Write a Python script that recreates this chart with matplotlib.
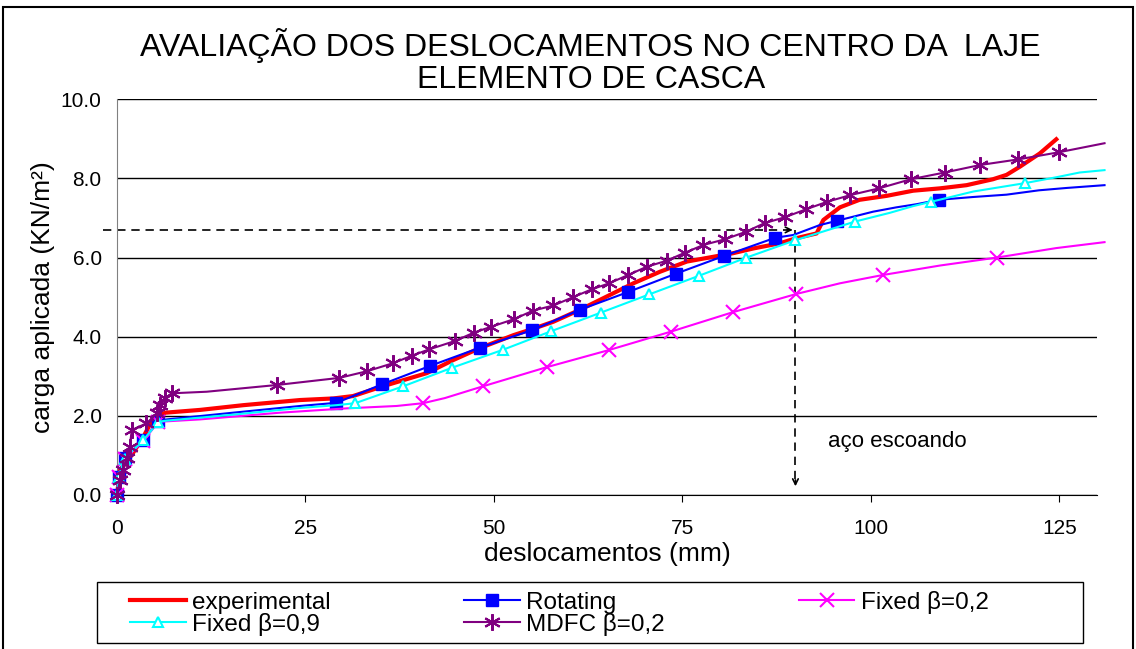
import numpy as np
import matplotlib
matplotlib.use('Agg')
import matplotlib.pyplot as plt
from matplotlib.patches import Rectangle

plt.rcParams['font.family'] = ['Liberation Sans', 'DejaVu Sans']

# experimental (sem marcadores)
ex_x = [0, 0.4, 1.95, 3.5, 4.8, 6.4, 11.0, 16.75, 24.3, 28.7, 31.3, 35.3, 41.1, 44.6, 48.1,
        52.6, 55.2, 57.9, 61.4, 64.9, 68.5, 72.0, 75.6, 79.1, 81.7, 84.4, 87.9, 90.1, 92.8,
        93.7, 95.9, 98.5, 102.1, 105.6, 109.2, 112.7, 116.2, 118.0, 119.8, 122.4, 124.6]
ex_y = [0, 0.63, 1.01, 1.47, 1.94, 2.08, 2.15, 2.27, 2.40, 2.44, 2.50, 2.75, 3.08, 3.41, 3.71,
        4.04, 4.20, 4.38, 4.68, 5.01, 5.35, 5.64, 5.90, 6.02, 6.11, 6.23, 6.36, 6.49, 6.61,
        6.95, 7.27, 7.46, 7.56, 7.69, 7.75, 7.83, 7.98, 8.09, 8.30, 8.63, 8.99]

# Rotating
rot_x = [0, 0.2, 1.0, 3.5, 5.5, 6.6, 15.4, 24.3, 29.1, 35.2, 41.5, 48.1, 55.1, 61.4, 67.8,
         74.1, 80.5, 87.3, 89.7, 93.2, 95.5, 100.3, 103.4, 106.1, 109.0, 113.5, 118.0, 122.3,
         126.0, 131.0]
rot_y = [0, 0.46, 0.93, 1.39, 1.87, 1.91, 2.08, 2.25, 2.33, 2.80, 3.26, 3.72, 4.17, 4.68, 5.13,
         5.59, 6.04, 6.50, 6.57, 6.82, 6.93, 7.16, 7.27, 7.35, 7.46, 7.53, 7.59, 7.70,
         7.76, 7.83]
rot_mk = [0, 1, 2, 3, 4, 8, 9, 10, 11, 12, 13, 14, 15, 16, 17, 20, 24]

# Fixed beta=0,2
f2_x = [0, 0.2, 1.0, 3.5, 5.5, 11.0, 21.6, 30.5, 37.1, 40.6, 43.5, 48.6, 57.0, 65.2, 73.5,
        81.7, 90.1, 95.9, 101.6, 109.2, 116.7, 124.6, 131.0]
f2_y = [0, 0.45, 0.90, 1.37, 1.85, 1.91, 2.08, 2.19, 2.25, 2.32, 2.45, 2.75, 3.23, 3.66, 4.13,
        4.62, 5.08, 5.35, 5.56, 5.80, 6.00, 6.24, 6.39]
f2_mk = [0, 1, 2, 3, 4, 9, 11, 12, 13, 14, 15, 16, 18, 20]

# Fixed beta=0,9
f9_x = [0, 0.2, 1.0, 3.5, 5.5, 6.6, 15.4, 24.3, 29.1, 31.6, 38.0, 44.5, 51.2, 57.6, 64.2,
        70.6, 77.2, 83.5, 90.0, 97.9, 102.5, 105.6, 108.0, 113.6, 120.4, 124.6, 127.7, 131.0]
f9_y = [0, 0.45, 0.92, 1.39, 1.85, 1.88, 2.03, 2.20, 2.27, 2.32, 2.75, 3.22, 3.67, 4.14, 4.61,
        5.07, 5.54, 6.00, 6.44, 6.91, 7.13, 7.30, 7.41, 7.67, 7.88, 8.03, 8.15, 8.21]
f9_mk = [0, 1, 2, 3, 4, 9, 10, 11, 12, 13, 14, 15, 16, 17, 18, 19, 22, 24]

# MDFC beta=0,2
md_x = [0, 0.4, 0.84, 1.3, 1.7, 1.95, 3.9, 5.3, 5.7, 6.4, 7.25, 11.9, 21.2, 29.5, 33.2, 36.6,
        39.1, 41.4, 44.8, 47.3, 49.6, 52.6, 55.2, 57.9, 60.5, 63.0, 65.3, 67.8, 70.3, 72.9,
        75.3, 77.8, 80.6, 83.4, 85.9, 88.6, 91.4, 94.2, 97.3, 101.1, 105.3, 109.8, 114.5,
        119.5, 124.9, 131.0]
md_y = [0, 0.38, 0.63, 0.93, 1.22, 1.64, 1.81, 2.06, 2.27, 2.44, 2.57, 2.61, 2.78, 2.96, 3.13,
        3.33, 3.52, 3.68, 3.89, 4.10, 4.25, 4.44, 4.66, 4.79, 5.00, 5.20, 5.35, 5.56, 5.77,
        5.92, 6.12, 6.32, 6.46, 6.65, 6.87, 7.02, 7.22, 7.41, 7.58, 7.75, 7.98, 8.15, 8.34,
        8.48, 8.66, 8.89]
md_mk = [i for i in range(len(md_x)) if i not in (11, len(md_x) - 1)]

# ponto de escoamento do aco
esc_x = 90.0
esc_y = 6.7

fig = plt.figure(figsize=(11.36, 6.49), dpi=100)
ax = fig.add_axes([117 / 1136, 1 - 495 / 649, 980 / 1136, 395.7 / 649])

h_ex, = ax.plot(ex_x, ex_y, color='#FF0000', lw=3.0, label='experimental', clip_on=False, zorder=3)
h_rot, = ax.plot(rot_x, rot_y, color='#0000FF', lw=1.5, marker='s', ms=9, markevery=rot_mk,
                 label='Rotating', clip_on=False, zorder=4)
h_f2, = ax.plot(f2_x, f2_y, color='#FF00FF', lw=1.5, marker='x', ms=10, mew=1.5, markevery=f2_mk,
                label='Fixed β=0,2', clip_on=False, zorder=4)
h_f9, = ax.plot(f9_x, f9_y, color='#00FFFF', lw=1.5, marker='^', ms=7, mfc='white', mew=1.5,
                markevery=f9_mk, label='Fixed β=0,9', clip_on=False, zorder=4)
h_md, = ax.plot(md_x, md_y, color='#800080', lw=1.5, marker=(6, 2, 0), ms=12, mew=1.5,
                markevery=md_mk, label='MDFC β=0,2', clip_on=False, zorder=5)

# setas tracejadas
ax.plot([-1.9, esc_x - 0.5], [esc_y, esc_y], color='black', lw=1.2, ls=(0, (5, 3.5)), clip_on=False)
ax.annotate('', xy=(esc_x, esc_y), xytext=(esc_x - 1.5, esc_y),
            arrowprops=dict(arrowstyle='->', color='black', lw=1.2))
ax.plot([esc_x, esc_x], [esc_y, 0.3], color='black', lw=1.2, ls=(0, (5, 3.5)))
ax.annotate('', xy=(esc_x, 0.15), xytext=(esc_x, 0.45),
            arrowprops=dict(arrowstyle='->', color='black', lw=1.2))
ax.text(94.3, 1.35, 'aço escoando', fontsize=16, va='center', ha='left')

ax.set_xlim(0, 130)
ax.set_ylim(0, 10)
ax.set_xticks([0, 25, 50, 75, 100, 125])
ax.set_yticks(np.arange(0, 10.1, 2))
ax.set_yticklabels(['%.1f' % v for v in np.arange(0, 10.1, 2)])
ax.tick_params(axis='x', direction='out', length=5, labelsize=15, pad=12)
ax.tick_params(axis='y', length=0, labelsize=15, pad=11)
ax.grid(axis='y', color='black', lw=1.0)
ax.set_axisbelow(True)
for s in ['top', 'right']:
    ax.spines[s].set_visible(False)
ax.spines['left'].set_color('#808080')
ax.spines['bottom'].set_color('black')

ax.set_xlabel('deslocamentos (mm)', fontsize=19, labelpad=3)
ax.set_ylabel('carga aplicada (KN/m²)', fontsize=19, labelpad=4)

fig.text(0.52, 1 - 61.5 / 649, 'AVALIAÇÃO DOS DESLOCAMENTOS NO CENTRO DA  LAJE\nELEMENTO DE CASCA',
         ha='center', va='center', fontsize=23, linespacing=1.07)

# legenda: moldura desenhada a parte
leg = fig.legend([h_ex, h_f9, h_rot, h_md, h_f2],
                 ['experimental', 'Fixed β=0,9', 'Rotating', 'MDFC β=0,2', 'Fixed β=0,2'],
                 ncol=3, loc='upper left', bbox_to_anchor=(130 / 1136, 1 - 591 / 649),
                 fontsize=17.5, frameon=False, labelspacing=-0.045, handlelength=2.3,
                 handletextpad=0.25, columnspacing=5.5, borderpad=0, borderaxespad=0)
fig.patches.append(Rectangle((97 / 1136, 1 - 643 / 649), 986 / 1136, 61 / 649,
                             transform=fig.transFigure, fill=False, edgecolor='black', lw=1.0))

fig.patches.append(Rectangle((3 / 1136, -0.01), 1130 / 1136, 1.0 - 7 / 649 + 0.01,
                             transform=fig.transFigure, fill=False, edgecolor='black', lw=1.5))

fig.savefig('out.png', dpi=100)
